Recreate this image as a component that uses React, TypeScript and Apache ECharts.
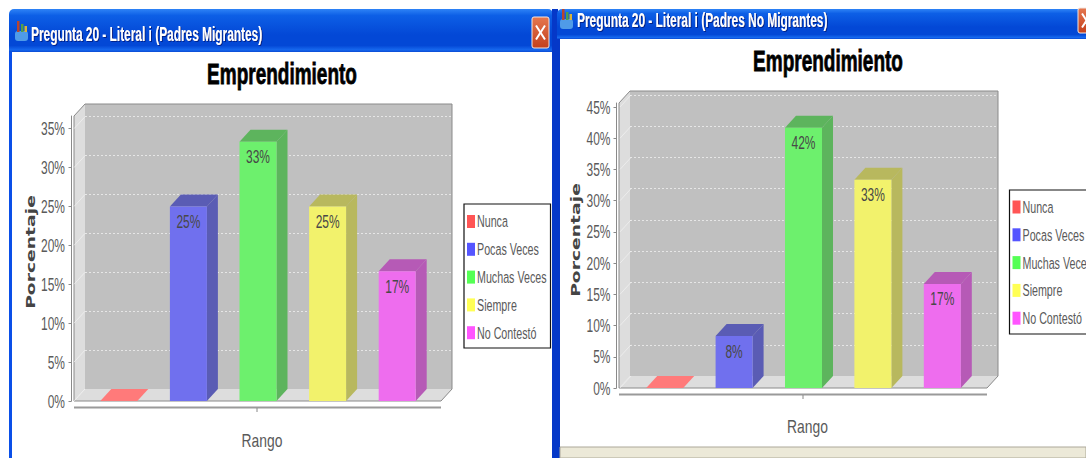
import React, { useEffect, useRef } from "react";
import * as echarts from "echarts";

const categories = ["Nunca", "Pocas Veces", "Muchas Veces", "Siempre", "No Contestó"];
const leftValues = [0, 25, 33.33, 25, 16.67];
const rightValues = [0, 8.33, 41.67, 33.33, 16.67];
const leftTicks = [0, 5, 10, 15, 20, 25, 30, 35];
const rightTicks = [0, 5, 10, 15, 20, 25, 30, 35, 40, 45];
const chartTitle = "Emprendimiento";
const leftWindowTitle = "Pregunta 20 - Literal i (Padres Migrantes)";
const rightWindowTitle = "Pregunta 20 - Literal i (Padres No Migrantes)";
const yName = "Porcentaje";
const xName = "Rango";
const swatchColors = ["#FF5555", "#5555FF", "#55FF55", "#FFFF55", "#FF55FF"];
const frontColors = ["#FF7A7A", "#7070EE", "#6DF06D", "#F2F26C", "#EE6DEE"];
const sideColors = ["#FF7A7A", "#5A5CB4", "#5DB45D", "#B8B85E", "#B65AB6"];

const SANS = '"Liberation Sans", sans-serif';
const DX = 11;
const DY = 12;
const GREY = "#5A5A5A";
const NARROW_SCALE = 0.63;

function label(x: number, y: number, text: string, opts: any = {}) {
  const { size = 17, weight = "normal", fill = GREY, scaleX = NARROW_SCALE, align = "left", family = SANS, rotation = 0, z = 4, extra = {} } = opts;
  return {
    type: "text",
    x,
    y,
    scaleX,
    rotation,
    z,
    style: { text, fill, font: `${weight} ${size}px ${family}`, align, verticalAlign: "middle", ...extra },
  };
}

function barRenderer(idx: number) {
  return (_params: any, api: any) => {
    const cat = api.value(0);
    const val = api.value(1);
    const base = api.coord([cat, 0]);
    const top = api.coord([cat, val]);
    const w = 37;
    const x0 = base[0] - w / 2 - 0.5;
    const x1 = x0 + w;
    const yb = base[1];
    const yt = top[1];
    const children: any[] = [];
    if (val <= 0) {
      children.push({
        type: "polygon",
        shape: { points: [[x0, yb], [x1, yb], [x1 + DX, yb - DY], [x0 + DX, yb - DY]] },
        style: { fill: frontColors[idx] },
      });
    } else {
      children.push({
        type: "polygon",
        shape: { points: [[x1, yb], [x1 + DX, yb - DY], [x1 + DX, yt - DY], [x1, yt]] },
        style: { fill: sideColors[idx] },
      });
      children.push({
        type: "polygon",
        shape: { points: [[x0, yt], [x1, yt], [x1 + DX, yt - DY], [x0 + DX, yt - DY]] },
        style: { fill: sideColors[idx] },
      });
      children.push({
        type: "rect",
        shape: { x: x0, y: yt, width: w, height: yb - yt },
        style: { fill: frontColors[idx] },
      });
      children.push({
        type: "text",
        x: (x0 + x1) / 2,
        y: yt + 15,
        scaleX: NARROW_SCALE,
        style: {
          text: Math.round(val) + "%",
          fill: "#484848",
          font: `19px ${SANS}`,
          align: "center",
          verticalAlign: "middle",
        },
      });
    }
    return { type: "group", children };
  };
}

// One item per tick: the faint diagonal on the side wall and the tick's label.
function tickRenderer(labelGap: number) {
  return (params: any, api: any) => {
    const val = api.value(1);
    const y = api.coord([0, val])[1];
    const x = params.coordSys.x - 10.5;
    return {
      type: "group",
      children: [
        {
          type: "line",
          shape: { x1: x, y1: y, x2: x + DX, y2: y - DY },
          style: { stroke: "#F2F2F2", lineWidth: 1, opacity: 0.7 },
        },
        {
          type: "text",
          x: params.coordSys.x - labelGap,
          y,
          scaleX: NARROW_SCALE,
          style: {
            text: val + "%",
            fill: GREY,
            font: `19px ${SANS}`,
            align: "right",
            verticalAlign: "middle",
          },
        },
      ],
    };
  };
}

function windowChrome(x0: number, x1: number, barBottom: number, titleX: number, titleY: number, title: string, iconDX: number, iconDY: number, closeX: number, closeY: number, closeH: number, bright: string) {
  const barFill = new echarts.graphic.LinearGradient(0, 0, 0, 1, [
    { offset: 0, color: "#2E83F6" },
    { offset: 0.15, color: "#0D5FE6" },
    { offset: 0.6, color: "#0348D6" },
    { offset: 0.85, color: "#0348D6" },
    { offset: 0.95, color: "#1668EE" },
    { offset: 1, color: "#0A4BD4" },
  ]);
  const closeFill = new echarts.graphic.LinearGradient(0, 0, 0, 1, [
    { offset: 0, color: "#E5774F" },
    { offset: 1, color: "#C4401C" },
  ]);
  return [
    { type: "rect", shape: { x: x0, y: 9, width: x1 - x0, height: barBottom - 9, r: [5, 5, 0, 0] }, style: { fill: barFill }, z: 0 },
    { type: "rect", shape: { x: x0, y: barBottom, width: 3, height: 458 - barBottom }, style: { fill: bright }, z: 0 },
    label(titleX, titleY, title, { size: 20, weight: "bold", fill: "#FFFFFF", scaleX: 0.595, z: 1, extra: { textShadowColor: "#00208A", textShadowBlur: 1, textShadowOffsetX: 1, textShadowOffsetY: 1 } }),
    { type: "rect", shape: { x: 15 + iconDX, y: 31 + iconDY, width: 13, height: 10, r: 3 }, style: { fill: "#4F9BE8" }, z: 1 },
    { type: "rect", shape: { x: 17 + iconDX, y: 21 + iconDY, width: 2.5, height: 11 }, style: { fill: "#B8452F" }, z: 1 },
    { type: "rect", shape: { x: 21 + iconDX, y: 24 + iconDY, width: 2.5, height: 8 }, style: { fill: "#4F9E4F" }, z: 1 },
    { type: "rect", shape: { x: 24.5 + iconDX, y: 26 + iconDY, width: 2.5, height: 6 }, style: { fill: "#D9B43A" }, z: 1 },
    { type: "rect", shape: { x: closeX, y: closeY, width: 17, height: closeH, r: 2 }, style: { fill: closeFill, stroke: "#F2E6E0", lineWidth: 1 }, z: 1 },
    { type: "line", shape: { x1: closeX + 4, y1: closeY + closeH / 2 - 7, x2: closeX + 13, y2: closeY + closeH / 2 + 7 }, style: { stroke: "#FFFFFF", lineWidth: 2 }, z: 2 },
    { type: "line", shape: { x1: closeX + 13, y1: closeY + closeH / 2 - 7, x2: closeX + 4, y2: closeY + closeH / 2 + 7 }, style: { stroke: "#FFFFFF", lineWidth: 2 }, z: 2 },
  ];
}

function walls(fx0: number, fx1: number, fy0: number, fy1: number, tickX: number) {
  const wallFill = "#DDDDDD";
  return [
    { type: "polygon", shape: { points: [[fx0, fy0], [fx0 + DX, fy0 - DY], [fx0 + DX, fy1 - DY], [fx0, fy1]] }, style: { fill: wallFill }, z: 1 },
    { type: "polygon", shape: { points: [[fx0, fy1], [fx0 + DX, fy1 - DY], [fx1 + DX, fy1 - DY], [fx1, fy1]] }, style: { fill: wallFill }, z: 1 },
    { type: "polygon", shape: { points: [[fx0, fy1], [fx0, fy0], [fx0 + DX, fy0 - DY], [fx1 + DX, fy0 - DY], [fx1 + DX, fy1 - DY], [fx1, fy1]] }, style: { fill: "none", stroke: "#8A8A8A", lineWidth: 1 }, z: 1 },
    { type: "line", shape: { x1: fx0, y1: fy1 + 6.5, x2: fx1, y2: fy1 + 6.5 }, style: { stroke: "#9A9A9A", lineWidth: 2 }, z: 1 },
    { type: "line", shape: { x1: tickX, y1: fy1 + 7, x2: tickX, y2: fy1 + 11 }, style: { stroke: "#888888", lineWidth: 1 }, z: 1 },
  ];
}

function legendBox(x: number, y: number, w: number, h: number, swatchX: number, textX: number, firstY: number) {
  const step = 27.8;
  const items: any[] = [
    { type: "rect", shape: { x, y, width: w, height: h }, style: { fill: "#FFFFFF", stroke: "#111111", lineWidth: 1.2 }, z: 3 },
  ];
  categories.forEach((name, i) => {
    const cy = firstY + step * i;
    items.push({ type: "rect", shape: { x: swatchX, y: cy - 6.5, width: 8, height: 13 }, style: { fill: swatchColors[i] }, z: 4 });
    items.push(label(textX, cy, name));
  });
  return items;
}

const titleExtra = { stroke: "#000000", lineWidth: 0.8 };

function App() {
  const ref = useRef<HTMLDivElement>(null);
  useEffect(() => {
    const chart = echarts.init(ref.current!, undefined, { renderer: "svg" });
    const panels = [
      { values: leftValues, ticks: leftTicks, front: { left: 84.5, width: 348, top: 116, height: 285 }, back: { left: 85, width: 367, top: 104, height: 285 }, max: 36.63, axisOffset: 13, labelGap: 19.5 },
      { values: rightValues, ticks: rightTicks, front: { left: 630.5, width: 347, top: 103, height: 285 }, back: { left: 630, width: 368, top: 91, height: 285 }, max: 45.64, axisOffset: 14, labelGap: 20 },
    ];
    const grid: any[] = [];
    const xAxis: any[] = [];
    const yAxis: any[] = [];
    const series: any[] = [];
    panels.forEach((p, i) => {
      const fi = i * 2;
      const bi = i * 2 + 1;
      grid.push({ ...p.front, show: false, outerBoundsMode: "none" });
      grid.push({ ...p.back, show: true, backgroundColor: "#C0C0C0", borderWidth: 0, outerBoundsMode: "none" });
      xAxis.push({
        gridIndex: fi,
        type: "category",
        data: categories,
        axisLine: { show: false },
        axisTick: { show: false },
        axisLabel: { show: false },
      });
      xAxis.push({ gridIndex: bi, type: "category", data: categories, show: false });
      yAxis.push({
        gridIndex: fi,
        type: "value",
        min: 0,
        max: p.max,
        interval: 5,
        offset: p.axisOffset,
        axisLine: { show: true, lineStyle: { color: "#8A8A8A", width: 1 } },
        axisTick: { show: true, length: 3, lineStyle: { color: "#8A8A8A" }, customValues: p.ticks },
        axisLabel: { show: false },
        splitLine: { show: false },
      });
      yAxis.push({
        gridIndex: bi,
        type: "value",
        min: 0,
        max: p.max,
        interval: 5,
        axisLine: { show: false },
        axisLabel: { show: false },
        axisTick: { show: false, customValues: p.ticks },
        splitLine: { show: true, lineStyle: { color: "#E6E6E6", type: [2, 2], width: 1 } },
      });
      series.push({
        type: "custom",
        xAxisIndex: fi,
        yAxisIndex: fi,
        z: 1.5,
        silent: true,
        name: "ticks" + i,
        data: p.ticks.map((t) => [0, t]),
        encode: { x: 0, y: 1 },
        renderItem: tickRenderer(p.labelGap),
      });
      categories.forEach((name, c) => {
        series.push({
          type: "custom",
          name,
          xAxisIndex: fi,
          yAxisIndex: fi,
          z: 3,
          itemStyle: { color: swatchColors[c] },
          data: [[c, p.values[c]]],
          encode: { x: 0, y: 1 },
          renderItem: barRenderer(c),
        });
      });
    });

    chart.setOption({
      animation: false,
      backgroundColor: "#FFFFFF",
      grid,
      xAxis,
      yAxis,
      series,
      graphic: {
        elements: [
          ...windowChrome(9, 553, 52, 31, 34, leftWindowTitle, 0, 0, 532, 17, 31, "#0A4FE8"),
          { type: "rect", shape: { x: 552, y: 9, width: 6, height: 449 }, style: { fill: "#0538C8" }, z: 0 },
          ...windowChrome(557, 1086, 39, 577, 20, rightWindowTitle, 545, -12, 1078, 8, 25, "#0538C8"),
          { type: "rect", shape: { x: 560, y: 447, width: 526, height: 11 }, style: { fill: "#ECE9D8", stroke: "#ACA899", lineWidth: 1 }, z: 1 },
          ...walls(74, 441, 116, 401, 257),
          ...walls(619, 987, 103, 388, 803),
          label(282, 74, chartTitle, { size: 29, weight: "bold", fill: "#000000", scaleX: 0.655, align: "center", extra: titleExtra }),
          label(828, 61, chartTitle, { size: 29, weight: "bold", fill: "#000000", scaleX: 0.655, align: "center", extra: titleExtra }),
          label(262, 441, xName, { size: 19, scaleX: 0.73, align: "center" }),
          label(807.5, 427, xName, { size: 19, scaleX: 0.73, align: "center" }),
          label(31, 252, yName, { size: 12.5, weight: "bold", fill: "#444444", family: '"DejaVu Sans", sans-serif', scaleX: 1.5, align: "center", rotation: Math.PI / 2 }),
          label(576, 240, yName, { size: 12.5, weight: "bold", fill: "#444444", family: '"DejaVu Sans", sans-serif', scaleX: 1.5, align: "center", rotation: Math.PI / 2 }),
          ...legendBox(464, 204, 86.5, 144, 467, 477, 221.5),
          ...legendBox(1009.5, 190, 90, 144, 1012.5, 1022.5, 207),
        ],
      },
    });
    return () => chart.dispose();
  }, []);
  return <div ref={ref} style={{ position: "absolute", left: 0, top: 0, width: 1086, height: 458 }} />;
}

export default App;
